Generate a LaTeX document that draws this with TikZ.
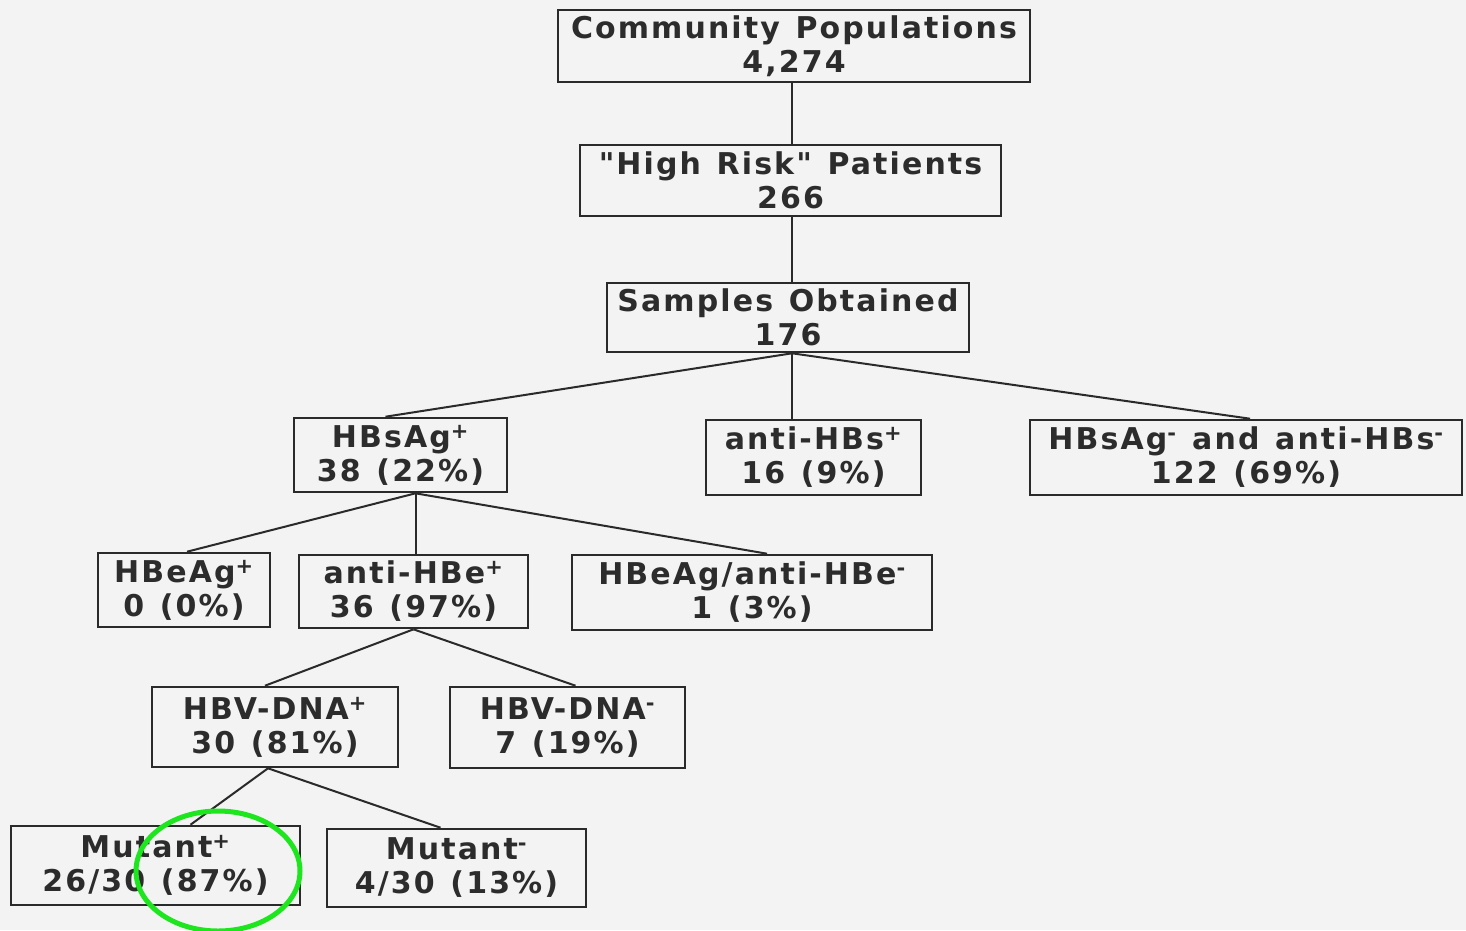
\documentclass[tikz,border=0pt]{standalone}
\usepackage{fontspec}
\newfontfamily\boxfont[LetterSpace=7,WordSpace=1.25]{DejaVu Sans}
\definecolor{linecol}{HTML}{2A2A2A}
\definecolor{textcol}{HTML}{2C2C2C}
\definecolor{paper}{HTML}{F3F3F3}
\definecolor{ring}{HTML}{1EE61E}
\newcommand{\spos}{\textsuperscript{+}}
\newcommand{\sneg}{\textsuperscript{-}}
\begin{document}
\begin{tikzpicture}[x=1pt,y=-1pt,
  box/.style={draw=linecol, line width=2.6pt, inner sep=0pt, align=center,
    font=\boxfont\bfseries\fontsize{30}{34}\selectfont, text=textcol},
  link/.style={draw=linecol, line width=2pt}]
\useasboundingbox[fill=paper] (0,0) rectangle (1466,930);
\node[box, minimum width=472pt, minimum height=72pt] (cp) at (794,46) {Community Populations\\4,274};
\node[box, minimum width=421pt, minimum height=71pt] (hr) at (790.5,180.5) {"High Risk" Patients\\266};
\node[box, minimum width=362pt, minimum height=69pt] (samp) at (788,317.5) {Samples Obtained\\176};
\node[box, minimum width=213pt, minimum height=74pt] (hbsag) at (400.5,455) {HBsAg\spos\\38 (22\%)};
\node[box, minimum width=215pt, minimum height=75pt] (antihbs) at (813.5,457.5) {anti-HBs\spos\\16 (9\%)};
\node[box, minimum width=432pt, minimum height=75pt] (neg) at (1246,457.5) {HBsAg\sneg{} and anti-HBs\sneg\\122 (69\%)};
\node[box, minimum width=172pt, minimum height=74pt] (hbeag) at (184,590) {HBeAg\spos\\0 (0\%)};
\node[box, minimum width=229pt, minimum height=73pt] (antihbe) at (413.5,591.5) {anti-HBe\spos\\36 (97\%)};
\node[box, minimum width=360pt, minimum height=75pt] (hbeneg) at (752,592.5) {HBeAg/anti-HBe\sneg\\1 (3\%)};
\node[box, minimum width=246pt, minimum height=80pt] (dnap) at (275,727) {HBV-DNA\spos\\30 (81\%)};
\node[box, minimum width=235pt, minimum height=81pt] (dnan) at (567.5,727.5) {HBV-DNA\sneg\\7 (19\%)};
\node[box, minimum width=289pt, minimum height=79pt] (mutp) at (155.5,865.5) {Mutant\spos\\26/30 (87\%)};
\node[box, minimum width=259pt, minimum height=78pt] (mutn) at (456.5,868) {Mutant\sneg\\4/30 (13\%)};
\draw[link] ([xshift=-2pt]cp.south) -- ([xshift=-2pt]cp.south |- hr.north);
\draw[link] ([xshift=-2pt]cp.south |- hr.south) -- ([xshift=-2pt]cp.south |- samp.north);
\coordinate (sb) at ([xshift=4pt]samp.south);
\draw[link] (sb) -- ([xshift=-15pt]hbsag.north);
\draw[link] (sb) -- (sb |- antihbs.north);
\draw[link] (sb) -- ([xshift=4pt]neg.north);
\coordinate (hb) at ([xshift=15pt]hbsag.south);
\draw[link] (hb) -- ([xshift=3pt]hbeag.north);
\draw[link] (hb) -- (hb |- antihbe.north);
\draw[link] (hb) -- ([xshift=15pt]hbeneg.north);
\draw[link] (antihbe.south) -- ([xshift=-10pt]dnap.north);
\draw[link] (antihbe.south) -- ([xshift=8pt]dnan.north);
\coordinate (db) at ([xshift=-7pt]dnap.south);
\draw[link] (db) -- ([xshift=35pt]mutp.north);
\draw[link] (db) -- ([xshift=-16pt]mutn.north);
\draw[ring, line width=5pt] (218,871) ellipse [x radius=82, y radius=60];
\end{tikzpicture}
\end{document}
